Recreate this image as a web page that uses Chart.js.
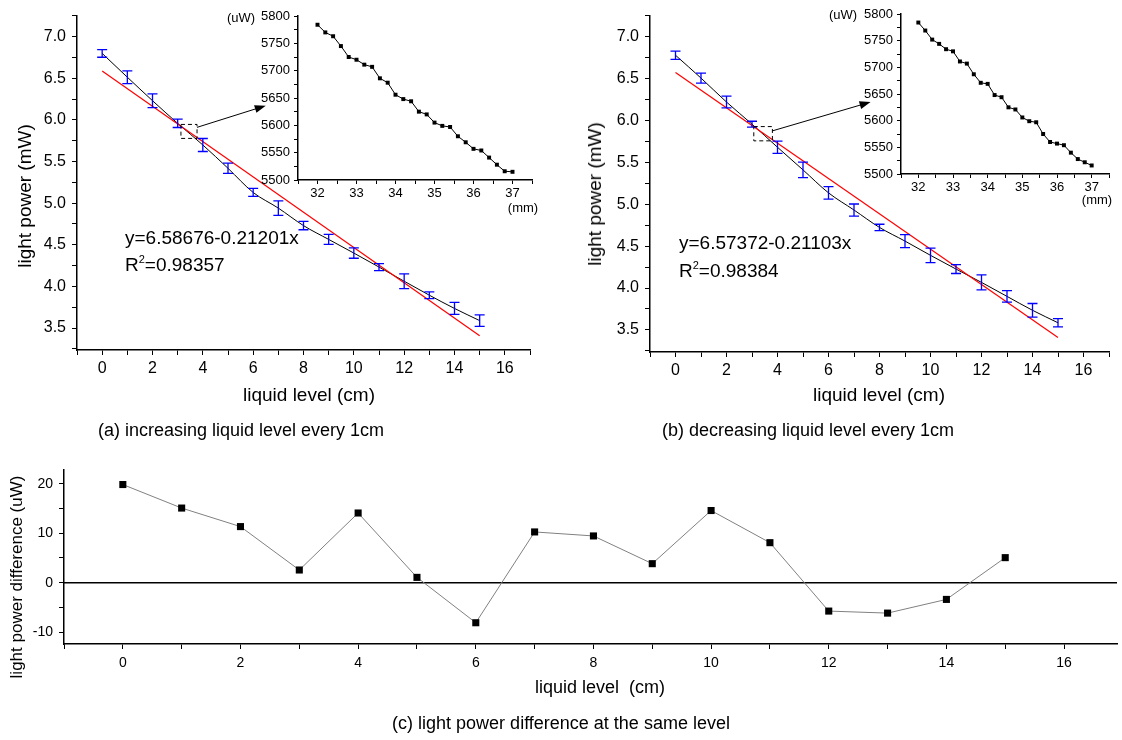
<!DOCTYPE html>
<html>
<head>
<meta charset="utf-8">
<script src="https://cdn.jsdelivr.net/npm/chart.js@4.4.1/dist/chart.umd.min.js"></script>
<style>
body { margin: 0; background: #fff; width: 1122px; height: 740px; position: relative; overflow: hidden;
       font-family: 'Liberation Sans', Arial, sans-serif; color: #000; }
.box { position: absolute; }
.t { position: absolute; white-space: pre; transform: translate(-50%, -50%); }
.l { position: absolute; white-space: pre; transform: translateY(-50%); font-size: 19px; }
.rot { transform: translate(-50%, -50%) rotate(-90deg); }
sup { font-size: 11px; vertical-align: 0; position: relative; top: -8px; }
</style>
</head>
<body>
<div class="box" style="left:0;top:0"><canvas id="mainA" width="560" height="420"></canvas></div>
<div class="box" style="left:570px;top:0"><canvas id="mainB" width="552" height="420"></canvas></div>
<div class="box" style="left:230px;top:0"><canvas id="insetA" width="320" height="220"></canvas></div>
<div class="box" style="left:830px;top:0"><canvas id="insetB" width="292" height="210"></canvas></div>
<div class="box" style="left:0;top:450px"><canvas id="diffC" width="1122" height="290"></canvas></div>

<div class="t rot" style="left:25px;top:196px;font-size:19px">light power (mW)</div>
<div class="t" style="left:309px;top:395px;font-size:19px">liquid level (cm)</div>
<div class="t rot" style="left:595px;top:194px;font-size:19px">light power (mW)</div>
<div class="t" style="left:879px;top:395px;font-size:19px">liquid level (cm)</div>
<div class="t rot" style="left:17px;top:577px;font-size:17px">light power difference (uW)</div>
<div class="t" style="left:600px;top:687px;font-size:18px">liquid level  (cm)</div>

<div class="t" style="left:241px;top:17px;font-size:13px">(uW)</div>
<div class="t" style="left:523px;top:207px;font-size:13px">(mm)</div>
<div class="t" style="left:843px;top:14px;font-size:13px">(uW)</div>
<div class="t" style="left:1097px;top:199px;font-size:13px">(mm)</div>

<div class="l" style="left:125px;top:238px">y=6.58676-0.21201x</div>
<div class="l" style="left:125px;top:265px">R<sup>2</sup>=0.98357</div>
<div class="l" style="left:679px;top:243px">y=6.57372-0.21103x</div>
<div class="l" style="left:679px;top:271px">R<sup>2</sup>=0.98384</div>

<div class="t" style="left:241px;top:430px;font-size:18px">(a) increasing liquid level every 1cm</div>
<div class="t" style="left:808px;top:430px;font-size:18px">(b) decreasing liquid level every 1cm</div>
<div class="t" style="left:561px;top:723px;font-size:18px">(c) light power difference at the same level</div>

<script>
// liquid level (cm)
const levels = [0, 1, 2, 3, 4, 5, 6, 7, 8, 9, 10, 11, 12, 13, 14, 15];
// (a) increasing level, mW, with error half-widths
const powerUp = [6.798, 6.512, 6.23, 5.958, 5.698, 5.418, 5.128, 4.94, 4.73, 4.564, 4.40, 4.232, 4.062, 3.894, 3.735, 3.589];
const errUp = [0.046, 0.076, 0.082, 0.05, 0.078, 0.062, 0.048, 0.088, 0.05, 0.06, 0.062, 0.042, 0.088, 0.04, 0.072, 0.07];
// (b) decreasing level
const powerDown = [6.779, 6.506, 6.22, 5.956, 5.68, 5.41, 5.136, 4.931, 4.723, 4.56, 4.39, 4.226, 4.067, 3.90, 3.734, 3.585];
const errDown = [0.05, 0.06, 0.07, 0.035, 0.073, 0.092, 0.074, 0.072, 0.038, 0.077, 0.087, 0.053, 0.09, 0.069, 0.081, 0.049];
// linear fit end points
const fitLevels = [0, 15];
const fitUp = [6.587, 3.407];
const fitDown = [6.574, 3.408];
// insets: position (mm) vs power (uW)
const insetPos = [32, 32.2, 32.4, 32.6, 32.8, 33, 33.2, 33.4, 33.6, 33.8, 34, 34.2, 34.4,
                  34.6, 34.8, 35, 35.2, 35.4, 35.6, 35.8, 36, 36.2, 36.4, 36.6, 36.8, 37];
const insetUp = [5784, 5770, 5763, 5745, 5725, 5720, 5711, 5707, 5686, 5678, 5656, 5648, 5644,
                 5625, 5620, 5605, 5599, 5597, 5580, 5569, 5557, 5554, 5541, 5528, 5516, 5515];
const insetDown = [5784, 5769, 5752, 5744, 5734, 5730, 5711, 5707, 5687, 5671, 5669, 5648, 5644,
                   5625, 5621, 5606, 5599, 5597, 5575, 5560, 5557, 5554, 5540, 5528, 5522, 5516];
// (c) difference (uW)
const powerDiff = [19.86, 15.1, 11.35, 2.57, 14.1, 1.08, -8.1, 10.27, 9.46, 3.85, 14.6, 8.1, -5.74, -6.15, -3.38, 5.07];

// ticks
const mainXTicks = [-1, 0, 1, 2, 3, 4, 5, 6, 7, 8, 9, 10, 11, 12, 13, 14, 15, 16, 17];
const mainXLabels = [0, 2, 4, 6, 8, 10, 12, 14, 16];
const mainYTicks = [3.25, 3.5, 3.75, 4, 4.25, 4.5, 4.75, 5, 5.25, 5.5, 5.75, 6, 6.25, 6.5, 6.75, 7, 7.25];
const mainYLabels = [3.5, 4, 4.5, 5, 5.5, 6, 6.5, 7];
const insetXTicks = [31.5, 32, 32.5, 33, 33.5, 34, 34.5, 35, 35.5, 36, 36.5, 37, 37.5];
const insetXLabels = [32, 33, 34, 35, 36, 37];
const insetYTicks = [5500, 5525, 5550, 5575, 5600, 5625, 5650, 5675, 5700, 5725, 5750, 5775, 5800];
const insetYLabels = [5500, 5550, 5600, 5650, 5700, 5750, 5800];
const diffXTicks = [-1, 0, 1, 2, 3, 4, 5, 6, 7, 8, 9, 10, 11, 12, 13, 14, 15, 16];
const diffXLabels = [0, 2, 4, 6, 8, 10, 12, 14, 16];
const diffYTicks = [-10, -5, 0, 5, 10, 15, 20];
const diffYLabels = [-10, 0, 10, 20];

// zoomed box + arrow, in data units of the main plots
const zoomA = {box: [3.13, 3.77, 5.777, 5.945], from: [3.77, 5.91], to: [6.5, 6.17]};
const zoomB = {box: [3.07, 3.80, 5.757, 5.927], from: [3.80, 5.876], to: [7.65, 6.22]};

const FONT = "'Liberation Sans', Arial, sans-serif";

function pts(xs, ys) {
  return xs.map((x, i) => ({x: x, y: ys[i]}));
}

function axis(pos, min, max, tickVals, labels, size, fit, pad, tickLen, fmt) {
  return {
    type: 'linear', position: pos, min: min, max: max,
    afterBuildTicks: s => { s.ticks = tickVals.map(v => ({value: v})); },
    afterFit: s => { if (pos === 'left') s.width = fit; else s.height = fit; },
    ticks: {
      autoSkip: false, maxRotation: 0, padding: pad, color: '#000',
      font: {size: size, family: FONT},
      callback: v => labels.includes(v) ? (fmt ? fmt(v) : String(v)) : ''
    },
    grid: {drawOnChartArea: false, drawTicks: true, tickLength: tickLen, color: '#000', lineWidth: 1},
    border: {display: true, color: '#000', width: 1.5}
  };
}

const errorBars = {
  id: 'errorBars',
  afterDatasetsDraw(chart, args, o) {
    if (!o.values) return;
    const ctx = chart.ctx, x = chart.scales.x, y = chart.scales.y;
    ctx.save();
    ctx.strokeStyle = '#0000ff';
    ctx.lineWidth = 1.3;
    o.levels.forEach((lv, i) => {
      const px = x.getPixelForValue(lv);
      const top = y.getPixelForValue(o.values[i] + o.errors[i]);
      const bot = y.getPixelForValue(o.values[i] - o.errors[i]);
      ctx.beginPath();
      ctx.moveTo(px, top); ctx.lineTo(px, bot);
      ctx.moveTo(px - 5, top); ctx.lineTo(px + 5, top);
      ctx.moveTo(px - 5, bot); ctx.lineTo(px + 5, bot);
      ctx.stroke();
    });
    ctx.restore();
  }
};

const zoomMark = {
  id: 'zoomMark',
  afterDatasetsDraw(chart, args, o) {
    if (!o.box) return;
    const ctx = chart.ctx, x = chart.scales.x, y = chart.scales.y;
    const x0 = x.getPixelForValue(o.box[0]), x1 = x.getPixelForValue(o.box[1]);
    const y0 = y.getPixelForValue(o.box[2]), y1 = y.getPixelForValue(o.box[3]);
    ctx.save();
    ctx.strokeStyle = '#000';
    ctx.lineWidth = 1;
    ctx.setLineDash([4, 3]);
    ctx.strokeRect(x0, y1, x1 - x0, y0 - y1);
    ctx.setLineDash([]);
    const fx = x.getPixelForValue(o.from[0]), fy = y.getPixelForValue(o.from[1]);
    const tx = x.getPixelForValue(o.to[0]), ty = y.getPixelForValue(o.to[1]);
    const a = Math.atan2(ty - fy, tx - fx);
    ctx.beginPath();
    ctx.moveTo(fx, fy);
    ctx.lineTo(tx - 8 * Math.cos(a), ty - 8 * Math.sin(a));
    ctx.stroke();
    ctx.fillStyle = '#000';
    ctx.beginPath();
    ctx.moveTo(tx, ty);
    ctx.lineTo(tx - 11 * Math.cos(a) + 4 * Math.sin(a), ty - 11 * Math.sin(a) - 4 * Math.cos(a));
    ctx.lineTo(tx - 11 * Math.cos(a) - 4 * Math.sin(a), ty - 11 * Math.sin(a) + 4 * Math.cos(a));
    ctx.closePath();
    ctx.fill();
    ctx.restore();
  }
};

const zeroLine = {
  id: 'zeroLine',
  beforeDatasetsDraw(chart, args, o) {
    if (!o.on) return;
    const ctx = chart.ctx, a = chart.chartArea;
    const py = chart.scales.y.getPixelForValue(0);
    ctx.save();
    ctx.strokeStyle = '#000';
    ctx.lineWidth = 1.5;
    ctx.beginPath();
    ctx.moveTo(a.left, py);
    ctx.lineTo(a.right, py);
    ctx.stroke();
    ctx.restore();
  }
};

function mainChart(id, values, errors, fit, zoom, pad) {
  return new Chart(document.getElementById(id), {
    type: 'scatter',
    data: {
      datasets: [
        {data: pts(fitLevels, fit), showLine: true, borderColor: '#ff0000', borderWidth: 1.2, pointRadius: 0},
        {data: pts(levels, values), showLine: true, borderColor: '#000', borderWidth: 1, pointRadius: 0,
         cubicInterpolationMode: 'monotone'}
      ]
    },
    options: {
      responsive: false, animation: false, devicePixelRatio: 1,
      layout: {padding: pad},
      plugins: {
        legend: {display: false}, tooltip: {enabled: false},
        errorBars: {levels: levels, values: values, errors: errors},
        zoomMark: zoom
      },
      scales: {
        x: axis('bottom', -1, 17, mainXTicks, mainXLabels, 16, 40, 4, 5),
        y: axis('left', 3.236, 7.252, mainYTicks, mainYLabels, 16, pad.yw, 6, 5, v => v.toFixed(1))
      }
    },
    plugins: [errorBars, zoomMark]
  });
}

function insetChart(id, values, pad) {
  return new Chart(document.getElementById(id), {
    type: 'scatter',
    data: {
      datasets: [{
        data: pts(insetPos, values), showLine: true, borderColor: '#000', borderWidth: 1,
        pointStyle: 'rect', pointRadius: 2.8, pointBackgroundColor: '#000', pointBorderWidth: 0
      }]
    },
    options: {
      responsive: false, animation: false, devicePixelRatio: 1,
      layout: {padding: pad},
      plugins: {legend: {display: false}, tooltip: {enabled: false}},
      scales: {
        x: axis('bottom', 31.5, 37.5, insetXTicks, insetXLabels, 13, pad.xh, 2, 4),
        y: axis('left', 5500, 5800, insetYTicks, insetYLabels, 13, pad.yw, 4, 4)
      }
    }
  });
}

mainChart('mainA', powerUp, errUp, fitUp, zoomA, {left: 0, top: 15, right: 30, bottom: 30, yw: 77});
mainChart('mainB', powerDown, errDown, fitDown, zoomB, {left: 0, top: 13, right: 13, bottom: 28, yw: 80});
insetChart('insetA', insetUp, {left: 0, top: 16, right: 18, bottom: 15, yw: 68, xh: 25});
insetChart('insetB', insetDown, {left: 0, top: 14, right: 13, bottom: 12, yw: 71, xh: 24});

new Chart(document.getElementById('diffC'), {
  type: 'scatter',
  data: {
    datasets: [{
      data: pts(levels, powerDiff), showLine: true, borderColor: '#808080', borderWidth: 1,
      pointStyle: 'rect', pointRadius: 5, pointBackgroundColor: '#000', pointBorderColor: '#000', pointBorderWidth: 0
    }]
  },
  options: {
    responsive: false, animation: false, devicePixelRatio: 1,
    layout: {padding: {left: 0, top: 20, right: 0, bottom: 56}},
    plugins: {legend: {display: false}, tooltip: {enabled: false}, zeroLine: {on: true}},
    scales: {
      x: axis('bottom', -1, 16.9, diffXTicks, diffXLabels, 14, 40, 6, 5),
      y: axis('left', -12.4, 22.8, diffYTicks, diffYLabels, 14, 64, 6, 5)
    }
  },
  plugins: [zeroLine]
});
</script>
</body>
</html>
